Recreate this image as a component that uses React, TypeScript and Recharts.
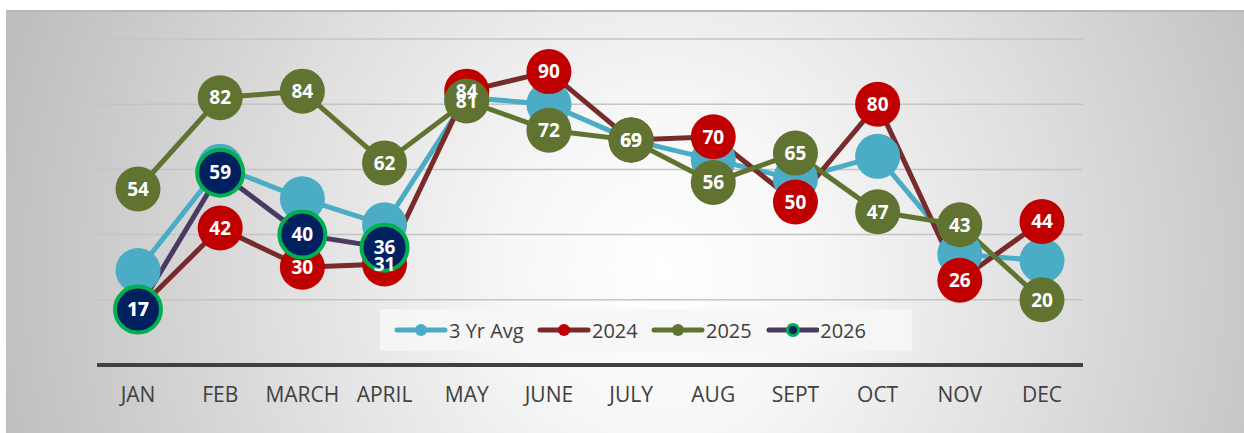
import React from "react";
import {
  CartesianGrid,
  LabelList,
  Legend,
  Line,
  LineChart,
  XAxis,
  YAxis,
} from "recharts";

const months = ["JAN", "FEB", "MARCH", "APRIL", "MAY", "JUNE", "JULY", "AUG", "SEPT", "OCT", "NOV", "DEC"];
const avg3yr = [29, 61, 51, 43, 82, 80, 69, 63, 57, 64, 34, 32];
const y2024 = [17, 42, 30, 31, 84, 90, 69, 70, 50, 80, 26, 44];
const y2025 = [54, 82, 84, 62, 81, 72, 69, 56, 65, 47, 43, 20];
const y2026 = [17, 59, 40, 36, null, null, null, null, null, null, null, null];
const yTicks = [0, 20, 40, 60, 80, 100];

const data = months.map((m, i) => ({
  month: m,
  avg: avg3yr[i],
  y2024: y2024[i],
  y2025: y2025[i],
  y2026: y2026[i],
}));

const FONT = "'Open Sans', sans-serif";

const series = {
  avg: { name: "3 Yr Avg", line: "#4BACC6", fill: "#4BACC6", ring: "#4BACC6" },
  y2024: { name: "2024", line: "#772B2A", fill: "#C00000", ring: "#C00000" },
  y2025: { name: "2025", line: "#617331", fill: "#617331", ring: "#617331" },
  y2026: { name: "2026", line: "#4A3A62", fill: "#002060", ring: "#00B050" },
};

type Key = keyof typeof series;
const order = Object.keys(series) as Key[];
// legend item slots, as spaced in the original
const legendSlots = [143, 114, 115, 100];

function LegendBox() {
  return (
    <div
      style={{
        background: "rgba(246,246,246,0.9)",
        height: 42,
        display: "flex",
        alignItems: "center",
        paddingLeft: 14,
        fontFamily: FONT,
        fontSize: 20,
        color: "#404040",
      }}
    >
      {order.map((k, i) => {
        const s = series[k];
        const is26 = k === "y2026";
        return (
          <div key={k} style={{ display: "flex", alignItems: "center", width: legendSlots[i] }}>
            <svg width={54} height={16}>
              <line x1={3} y1={8} x2={51} y2={8} stroke={s.line} strokeWidth={5} strokeLinecap="round" />
              {is26 ? (
                <circle cx={27} cy={8} r={5.5} fill={s.fill} stroke={s.ring} strokeWidth={3} />
              ) : (
                <circle cx={27} cy={8} r={6} fill={s.fill} />
              )}
            </svg>
            <span style={{ marginLeft: 1 }}>{s.name}</span>
          </div>
        );
      })}
    </div>
  );
}

const labelProps = { position: "center" as const, fill: "#ffffff", fontSize: 19, fontWeight: 700, fontFamily: FONT };

export default function App() {
  return (
    <div
      style={{
        position: "absolute",
        left: 6,
        top: 10,
        width: 1238,
        height: 423,
        background:
          "radial-gradient(ellipse 55% 170% at 53% 62%, #ffffff 0%, #f7f7f7 22%, #dedede 58%, #bebebe 100%)",
        boxShadow: "inset 0 2px 0 #b8b8b8",
      }}
    >
      <LineChart
        width={1238}
        height={423}
        data={data}
        margin={{ top: 29, right: 161, left: 91, bottom: 28 }}
      >
        <CartesianGrid vertical={false} stroke="#c4c4c4" strokeWidth={1.5} />
        <YAxis hide domain={[0, 100]} ticks={yTicks} />
        <XAxis
          dataKey="month"
          height={40}
          padding={{ left: 41, right: 41 }}
          axisLine={{ stroke: "#404040", strokeWidth: 4 }}
          tickLine={false}
          tickSize={0}
          tickMargin={22}
          tick={{ fill: "#404040", fontSize: 21, fontFamily: FONT }}
          interval={0}
        />
        <Legend
          layout="horizontal"
          verticalAlign="middle"
          align="center"
          wrapperStyle={{ left: 374, top: 299, width: 532, height: 42 }}
          content={() => <LegendBox />}
        />
        {order.map((k) => {
          const s = series[k];
          const is26 = k === "y2026";
          return (
            <Line
              key={k}
              dataKey={k}
              name={s.name}
              stroke={s.line}
              strokeWidth={5}
              isAnimationActive={false}
              activeDot={false}
              dot={
                is26
                  ? { r: 23, fill: s.fill, stroke: s.ring, strokeWidth: 4 }
                  : { r: 22.5, fill: s.fill, stroke: s.fill, strokeWidth: 0 }
              }
            />
          );
        })}
        {(["y2024", "y2025", "y2026"] as Key[]).map((k) => (
          <Line
            key={`lbl-${k}`}
            dataKey={k}
            stroke="none"
            dot={false}
            activeDot={false}
            legendType="none"
            isAnimationActive={false}
          >
            <LabelList dataKey={k} {...labelProps} />
          </Line>
        ))}
      </LineChart>
    </div>
  );
}
